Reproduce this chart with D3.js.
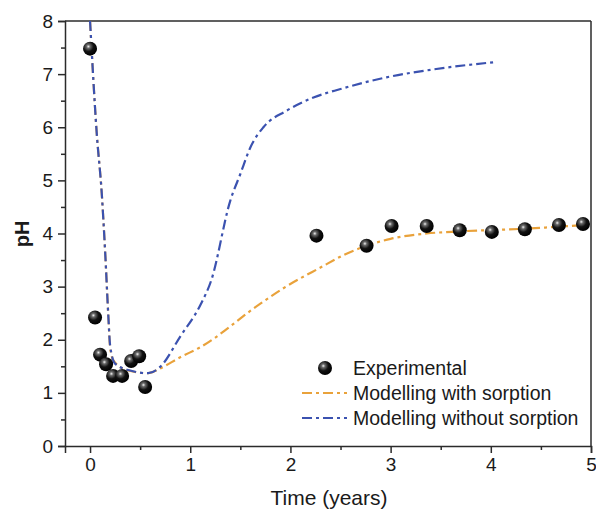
<!DOCTYPE html>
<html>
<head>
<meta charset="utf-8">
<script src="https://cdn.jsdelivr.net/npm/d3@7"></script>
<style>
  html, body { margin: 0; padding: 0; background: #fff; }
  svg { display: block; font-family: "Liberation Sans", Arial, sans-serif; }
</style>
</head>
<body>
<svg id="chart" width="596" height="512"></svg>
<script>
// ---- Data ----
const expTime = [0, 0.05, 0.10, 0.16, 0.23, 0.32, 0.41, 0.49, 0.55, 2.26, 2.76, 3.01, 3.36, 3.69, 4.01, 4.34, 4.68, 4.92];
const expPH   = [7.48, 2.42, 1.72, 1.54, 1.32, 1.32, 1.60, 1.69, 1.11, 3.96, 3.77, 4.14, 4.14, 4.06, 4.03, 4.08, 4.16, 4.18];

const withTime = [0, 0.067, 0.117, 0.15, 0.183, 0.20, 0.233, 0.366, 0.58, 0.70, 0.90, 1.10, 1.70, 1.93, 2.30, 2.56, 2.76, 3.00, 3.36, 3.69, 4.34, 5.0];
const withPH   = [8.0, 5.88, 4.75, 3.68, 2.43, 1.86, 1.61, 1.43, 1.37, 1.46, 1.67, 1.86, 2.68, 2.97, 3.36, 3.62, 3.77, 3.90, 4.00, 4.04, 4.09, 4.17];

const woTime = [0, 0.067, 0.117, 0.15, 0.183, 0.20, 0.25, 0.40, 0.58, 0.70, 0.90, 1.10, 1.21, 1.40, 1.50, 1.60, 1.73, 1.96, 2.23, 2.50, 2.96, 3.43, 4.06];
const woPH   = [8.0, 5.88, 4.75, 3.68, 2.43, 1.90, 1.55, 1.42, 1.37, 1.49, 2.06, 2.65, 3.12, 4.62, 5.12, 5.62, 6.00, 6.31, 6.56, 6.72, 6.94, 7.09, 7.23];

const xTicks = [0, 1, 2, 3, 4, 5];
const yTicks = [0, 1, 2, 3, 4, 5, 6, 7, 8];
const legendLabels = ["Experimental", "Modelling with sorption", "Modelling without sorption"];

// ---- Layout ----
const svg = d3.select("#chart");
const mLeft = 65, mRight = 591, mTop = 21, mBottom = 446;
const x = d3.scaleLinear().domain([-0.25, 5]).range([mLeft, mRight]);
const y = d3.scaleLinear().domain([0, 8]).range([mBottom, mTop]);

const orange = "#E9A23B";
const blue = "#3B52B0";
const axisColor = "#2b2b2b";

// gradient for spheres
const defs = svg.append("defs");
const grad = defs.append("radialGradient").attr("id", "sphere")
  .attr("cx", "38%").attr("cy", "35%").attr("r", "65%");
grad.append("stop").attr("offset", "0%").attr("stop-color", "#f2f2f2");
grad.append("stop").attr("offset", "20%").attr("stop-color", "#6a6a6a");
grad.append("stop").attr("offset", "55%").attr("stop-color", "#121212");
grad.append("stop").attr("offset", "100%").attr("stop-color", "#000");

// frame (top & right)
svg.append("line").attr("x1", mLeft).attr("x2", mRight).attr("y1", mTop).attr("y2", mTop)
  .attr("stroke", axisColor).attr("stroke-width", 1.5);
svg.append("line").attr("x1", mRight).attr("x2", mRight).attr("y1", mTop).attr("y2", mBottom)
  .attr("stroke", axisColor).attr("stroke-width", 1.5);

// lines
const lineGen = d3.line().x(d => x(d[0])).y(d => y(d[1])).curve(d3.curveMonotoneX);
const dash = "10,4,3,4";
svg.append("path").datum(withTime.map((t, i) => [t, withPH[i]]))
  .attr("d", lineGen).attr("fill", "none").attr("stroke", orange)
  .attr("stroke-width", 2.2).attr("stroke-dasharray", dash);
svg.append("path").datum(woTime.map((t, i) => [t, woPH[i]]))
  .attr("d", lineGen).attr("fill", "none").attr("stroke", blue)
  .attr("stroke-width", 2.2).attr("stroke-dasharray", dash);

// points
svg.append("g").selectAll("circle").data(expTime.map((t, i) => [t, expPH[i]]))
  .join("circle")
  .attr("cx", d => x(d[0])).attr("cy", d => y(d[1])).attr("r", 7)
  .attr("fill", "url(#sphere)");

// axes
function styleAxis(g) {
  g.select(".domain").attr("stroke", axisColor).attr("stroke-width", 1.5);
  g.selectAll(".tick line").attr("stroke", axisColor).attr("stroke-width", 1.5);
  g.selectAll(".tick text").attr("fill", "#1a1a1a").style("font-size", "19px")
    .style("font-family", "'Liberation Sans', Arial, sans-serif");
}
const xAxis = svg.append("g").attr("transform", `translate(0,${mBottom})`)
  .call(d3.axisBottom(x).tickValues(xTicks).tickSize(7).tickPadding(5).tickFormat(d3.format("d")));
styleAxis(xAxis);
const xMinor = svg.append("g").attr("transform", `translate(0,${mBottom})`)
  .call(d3.axisBottom(x).tickValues([0.5, 1.5, 2.5, 3.5, 4.5]).tickSize(4).tickFormat(""));
xMinor.select(".domain").remove();
xMinor.selectAll(".tick line").attr("stroke", axisColor).attr("stroke-width", 1.5);

const yAxis = svg.append("g").attr("transform", `translate(${mLeft},0)`)
  .call(d3.axisLeft(y).tickValues(yTicks).tickSize(7).tickPadding(5).tickFormat(d3.format("d")));
styleAxis(yAxis);
const yMinor = svg.append("g").attr("transform", `translate(${mLeft},0)`)
  .call(d3.axisLeft(y).tickValues([0.5, 1.5, 2.5, 3.5, 4.5, 5.5, 6.5, 7.5]).tickSize(4).tickFormat(""));
yMinor.select(".domain").remove();
yMinor.selectAll(".tick line").attr("stroke", axisColor).attr("stroke-width", 1.5);

// axis titles
svg.append("text").attr("x", 329).attr("y", 505).attr("text-anchor", "middle")
  .style("font-size", "21px").attr("fill", "#1a1a1a").text("Time (years)");
svg.append("text").attr("transform", "translate(29,234) rotate(-90)").attr("text-anchor", "middle")
  .style("font-size", "20px").style("font-weight", "bold").attr("fill", "#1a1a1a").text("pH");

// legend
const lg = svg.append("g");
const rows = [368, 393, 418];
lg.append("circle").attr("cx", 325).attr("cy", rows[0]).attr("r", 7).attr("fill", "url(#sphere)");
lg.append("line").attr("x1", 302).attr("x2", 347).attr("y1", rows[1]).attr("y2", rows[1])
  .attr("stroke", orange).attr("stroke-width", 2.2).attr("stroke-dasharray", dash);
lg.append("line").attr("x1", 302).attr("x2", 347).attr("y1", rows[2]).attr("y2", rows[2])
  .attr("stroke", blue).attr("stroke-width", 2.2).attr("stroke-dasharray", dash);
legendLabels.forEach((t, i) => {
  lg.append("text").attr("x", 353).attr("y", rows[i]).attr("dy", "0.36em")
    .style("font-size", "19.5px").attr("fill", "#1a1a1a").text(t);
});
</script>
</body>
</html>
